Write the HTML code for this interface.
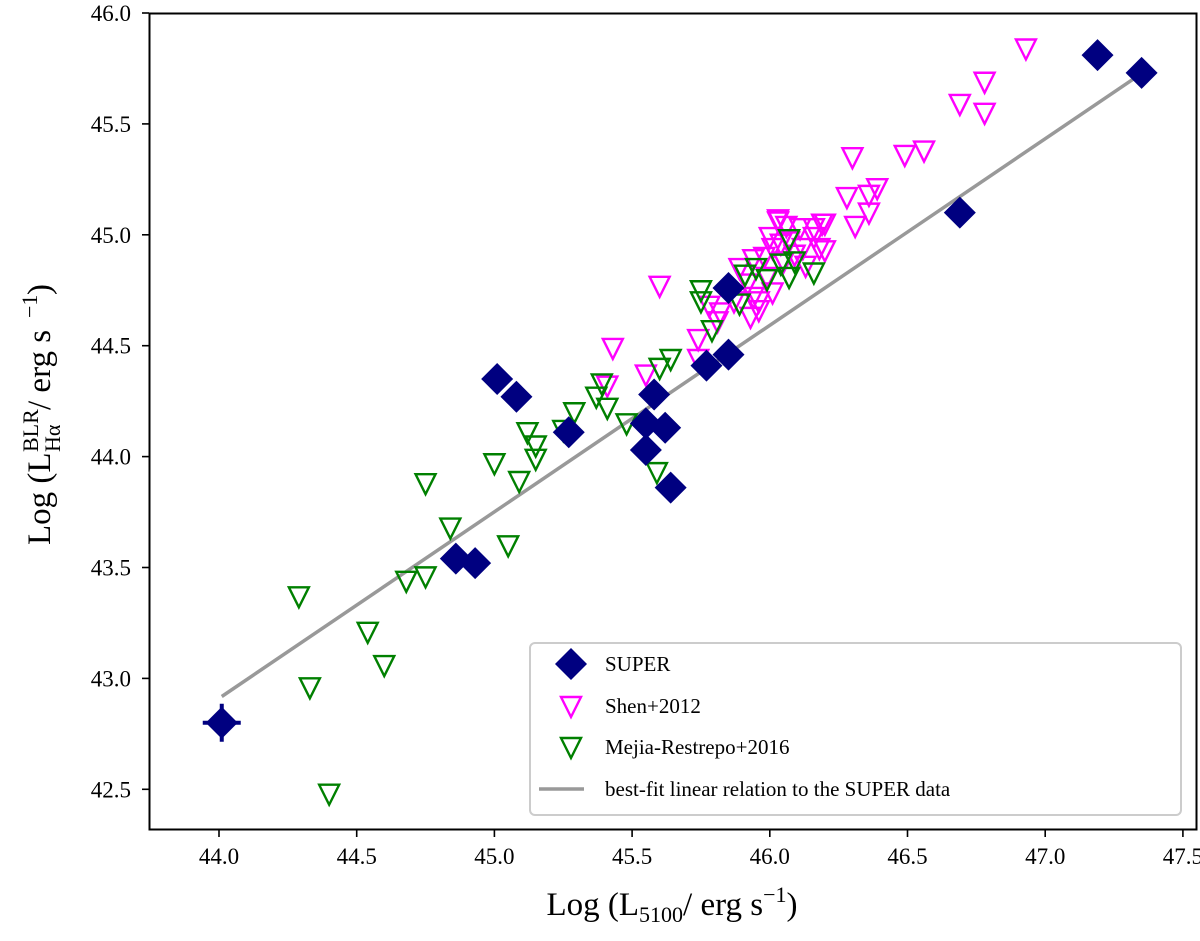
<!DOCTYPE html>
<html><head><meta charset="utf-8"><style>
html,body{margin:0;padding:0;background:#fff;}
svg{display:block;}
svg text{font-family:"Liberation Serif","DejaVu Serif",serif;}
</style></head><body>
<svg id="chart" width="1200" height="941" viewBox="0 0 1200 941">
<rect width="1200" height="941" fill="#fff"/>
<g id="plot"></g>
<g id="axes" style="font-family:'Liberation Serif',serif"></g>
<text x="672" y="915" text-anchor="middle" font-size="33">Log (L<tspan font-size="22" dy="7">5100</tspan><tspan dy="-7">/ erg s</tspan><tspan font-size="22" dy="-13">−1</tspan><tspan dy="13">)</tspan></text>
<g transform="translate(50,0) rotate(-90)" font-size="33">
<text x="-545" y="0">Log (L</text>
<text x="-452" y="-12" font-size="22">BLR</text>
<text x="-452" y="10" font-size="22">Hα</text>
<text x="-410" y="0">/ erg s</text>
<text x="-318" y="-13" font-size="22">−1</text>
<text x="-295" y="0">)</text>
</g>
<g font-size="21">
<rect x="530" y="643" width="651" height="172" rx="5" fill="#fff" fill-opacity="0.8" stroke="#ccc" stroke-width="2"/>
<polygon points="571,648 587,664 571,680 555,664" fill="#000080"/>
<text x="605" y="671">SUPER</text>
<polygon points="561,697 581,697 571,717" fill="none" stroke="#ff00ff" stroke-width="2.4"/>
<text x="605" y="713">Shen+2012</text>
<polygon points="561,738 581,738 571,758" fill="none" stroke="#008000" stroke-width="2.4"/>
<text x="605" y="754">Mejia-Restrepo+2016</text>
<line x1="539" y1="789" x2="584" y2="789" stroke="#999" stroke-width="3.5"/>
<text x="605" y="796">best-fit linear relation to the SUPER data</text>
</g>
</svg>
<script>
const xTicks=["44.0","44.5","45.0","45.5","46.0","46.5","47.0","47.5"];
const yTicks=["42.5","43.0","43.5","44.0","44.5","45.0","45.5","46.0"];
const superX=[44.01,45.01,45.08,45.27,44.86,44.93,45.58,45.55,45.62,45.55,45.64,45.77,45.85,45.85,46.69,47.19,47.35];
const superY=[42.80,44.35,44.27,44.11,43.54,43.52,44.28,44.15,44.13,44.03,43.86,44.41,44.46,44.76,45.10,45.81,45.73];
const shenX=[46.93,46.78,46.69,46.78,46.56,46.49,46.30,46.39,46.36,46.28,46.36,46.31,45.60,46.20,46.20,46.03,45.43,45.41,45.55,45.74,45.74,45.78,45.81,45.93,45.96,45.94,46.03,46.00,46.19,46.06,46.11,46.16,46.01,45.98,46.12,46.18,45.94,45.89,45.99,46.07,46.16,46.01,45.96,45.87,45.82,46.04,46.09,45.92,46.13,46.05];
const shenY=[45.84,45.69,45.59,45.55,45.38,45.36,45.35,45.21,45.18,45.17,45.10,45.04,44.77,45.05,44.93,45.06,44.49,44.32,44.37,44.53,44.44,44.68,44.61,44.63,44.66,44.72,45.07,44.99,45.05,45.04,45.03,44.99,44.94,44.90,44.94,44.94,44.89,44.85,44.81,44.97,45.03,44.74,44.70,44.70,44.65,44.96,44.91,44.78,44.86,44.88];
const mejiaX=[44.29,44.40,44.33,44.54,44.60,44.68,44.75,44.75,44.84,45.05,45.00,45.09,45.12,45.15,45.15,45.25,45.29,45.37,45.39,45.41,45.48,45.59,45.60,45.64,45.75,45.75,45.79,45.89,45.91,45.95,45.99,46.04,46.07,46.07,46.09,46.16];
const mejiaY=[43.37,42.48,42.96,43.21,43.06,43.44,43.46,43.88,43.68,43.60,43.97,43.89,44.11,44.05,43.99,44.12,44.20,44.27,44.33,44.22,44.15,43.93,44.40,44.44,44.75,44.70,44.57,44.69,44.82,44.85,44.80,44.87,44.98,44.81,44.88,44.83];
const fitSlope=0.841, fitIntercept=42.91, fitX0=44.01, fitX1=47.35;

const X=v=>219+(v-44)*275.4;
const Y=v=>13+(46-v)*221.8;
const NS="http://www.w3.org/2000/svg";
const plot=document.getElementById('plot'), axes=document.getElementById('axes');
function mk(tag,attrs,parent){const e=document.createElementNS(NS,tag);for(const k in attrs)e.setAttribute(k,attrs[k]);parent.appendChild(e);return e;}

const fl=mk('line',{x1:X(fitX0),y1:Y(fitIntercept+fitSlope*(fitX0-44)),x2:X(fitX1),y2:Y(fitIntercept+fitSlope*(fitX1-44)),stroke:'#999',"stroke-width":3.5},plot);



function tri(x,y,color,parent,name){
  const p=mk('polygon',{points:`${x-10},${y-9} ${x+10},${y-9} ${x},${y+11}`,fill:'none',stroke:color,"stroke-width":2.4},parent);
  
  
  return p;
}
function dia(x,y,parent,name){
  const p=mk('polygon',{points:`${x},${y-16} ${x+16},${y} ${x},${y+16} ${x-16},${y}`,fill:'#000080'},parent);
  
  
  return p;
}
for(let i=0;i<shenX.length;i++) tri(X(shenX[i]),Y(shenY[i]),'#ff00ff',plot,'shen-point');
for(let i=0;i<mejiaX.length;i++) tri(X(mejiaX[i]),Y(mejiaY[i]),'#008000',plot,'mejia-point');
const ex=X(superX[0]),ey=Y(superY[0]);
const eb=mk('path',{d:`M${ex-19},${ey}H${ex+19}M${ex},${ey-19}V${ey+19}`,stroke:'#000080',"stroke-width":4},plot);


for(let i=0;i<superX.length;i++) dia(X(superX[i]),Y(superY[i]),plot,'super-point');

const fr=mk('rect',{x:149.5,y:13.5,width:1047,height:816,fill:'none',stroke:'#000',"stroke-width":2},axes);


xTicks.forEach(t=>{const x=X(+t);
  mk('line',{x1:x,y1:830,x2:x,y2:837,stroke:'#000',"stroke-width":1.6},axes);
  const tx=mk('text',{x:x,y:864,"text-anchor":'middle',"font-size":23},axes);tx.textContent=t;
  tx.style.fontFamily="'Liberation Serif', serif";
  
  
});
yTicks.forEach(t=>{const y=Y(+t);
  mk('line',{x1:142,y1:y,x2:149,y2:y,stroke:'#000',"stroke-width":1.6},axes);
  const tx=mk('text',{x:131,y:y+8,"text-anchor":'end',"font-size":23},axes);tx.textContent=t;
  tx.style.fontFamily="'Liberation Serif', serif";
  
  
});
</script>
</body></html>
